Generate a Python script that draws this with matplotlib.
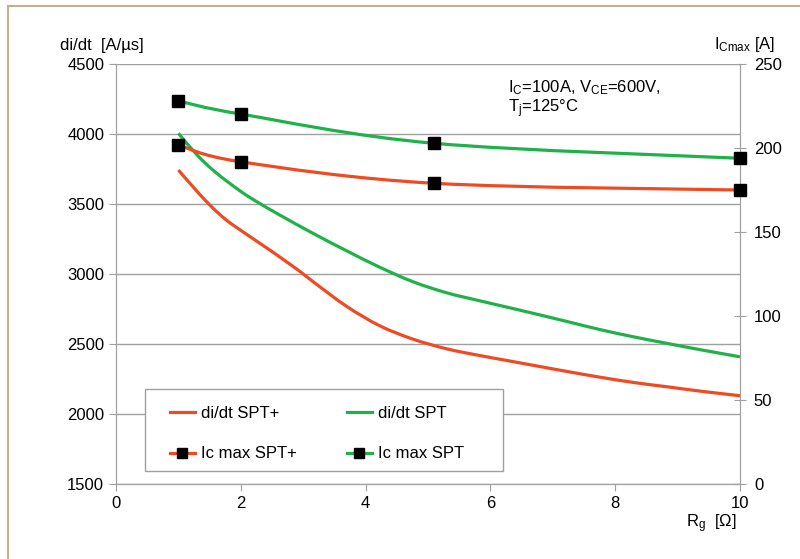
import matplotlib.pyplot as plt
from matplotlib.lines import Line2D
from matplotlib.path import Path
from matplotlib.patches import PathPatch, Rectangle

plt.rcParams['font.family'] = ['Liberation Sans', 'DejaVu Sans']
plt.rcParams['mathtext.fontset'] = 'custom'
plt.rcParams['mathtext.rm'] = 'Liberation Sans'
plt.rcParams['mathtext.it'] = 'Liberation Sans'

# di/dt curves (left axis)
rg_plus = [1.0, 1.24, 1.51, 1.77, 2.04, 2.42, 2.63, 2.95, 3.16, 3.70, 4.23, 4.76,
           5.30, 5.83, 6.31, 6.69, 7.22, 7.76, 8.29, 8.83, 9.36, 10.0]
didt_plus = [3743, 3620, 3490, 3385, 3300, 3185, 3120, 3018, 2945, 2768, 2630, 2535,
             2466, 2418, 2379, 2348, 2305, 2263, 2226, 2195, 2164, 2131]

rg_spt = [1.0, 1.3, 1.6, 2.0, 2.3, 2.63, 3.16, 3.70, 4.23, 4.76, 5.30, 5.83,
          6.31, 6.69, 7.22, 7.76, 8.29, 8.83, 9.36, 10.0]
didt_spt = [4005, 3850, 3725, 3590, 3505, 3420, 3290, 3165, 3048, 2945, 2866, 2809,
            2759, 2719, 2662, 2603, 2552, 2505, 2460, 2409]

# Ic max (right axis)
rg_ic = [1, 2, 5.1, 10]
ic_plus = [201.8, 191.8, 179.0, 175.0]
ic_spt = [228.0, 220.2, 202.8, 193.9]

red = '#f04a23'
green = '#1fb24a'
grey = '#a0a0a0'
fs = 12


def smooth_path(x, y):
    # excel-like smoothed line (bezier through the points)
    pts = list(zip(x, y))
    verts = [pts[0]]
    codes = [Path.MOVETO]
    n = len(pts)
    for i in range(n - 1):
        p0 = pts[i - 1] if i > 0 else pts[i]
        p1 = pts[i]
        p2 = pts[i + 1]
        p3 = pts[i + 2] if i + 2 < n else pts[i + 1]
        c1 = (p1[0] + (p2[0] - p0[0]) / 6, p1[1] + (p2[1] - p0[1]) / 6)
        c2 = (p2[0] - (p3[0] - p1[0]) / 6, p2[1] - (p3[1] - p1[1]) / 6)
        verts += [c1, c2, p2]
        codes += [Path.CURVE4] * 3
    return Path(verts, codes)


fig = plt.figure(figsize=(8, 5.59), dpi=100)
ax = fig.add_axes([0.145, 0.134, 0.78, 0.7515])
ax2 = ax.twinx()

ax.set_xlim(0, 10)
ax.set_ylim(1500, 4500)
ax2.set_ylim(0, 250)
ax.set_xticks([0, 2, 4, 6, 8, 10])
ax.set_yticks(range(1500, 4501, 500))
ax2.set_yticks(range(0, 251, 50))

ax.grid(axis='y', color=grey, lw=1)
ax.set_axisbelow(True)
for a in (ax, ax2):
    a.spines['top'].set_visible(False)
    for s in ('left', 'right', 'bottom'):
        a.spines[s].set_color(grey)
ax.tick_params(axis='both', colors=grey, labelcolor='black', labelsize=fs,
               length=5, direction='out')
ax2.tick_params(axis='y', colors=grey, labelcolor='black', labelsize=fs,
                length=8, direction='inout', pad=6)

ax.add_patch(PathPatch(smooth_path(rg_plus, didt_plus), fill=False, ec=red, lw=2.3,
                       transform=ax.transData))
ax.add_patch(PathPatch(smooth_path(rg_spt, didt_spt), fill=False, ec=green, lw=2.3,
                       transform=ax.transData))
ax2.add_patch(PathPatch(smooth_path(rg_ic, ic_plus), fill=False, ec=red, lw=2.3,
                        transform=ax2.transData))
ax2.add_patch(PathPatch(smooth_path(rg_ic, ic_spt), fill=False, ec=green, lw=2.3,
                        transform=ax2.transData))
ax2.plot(rg_ic, ic_plus, 's', color='black', ms=8.5, clip_on=False, zorder=5)
ax2.plot(rg_ic, ic_spt, 's', color='black', ms=8.5, clip_on=False, zorder=5)

# legend box drawn separately so it can be sized like the original
ax2.add_patch(Rectangle((0.0465, 0.031), 0.574, 0.195, transform=ax2.transAxes,
                        fc='white', ec=grey, lw=1, zorder=4.5))
handles = [
    Line2D([], [], color=red, lw=2.3),
    Line2D([], [], color=red, lw=2.3, marker='s', mfc='black', mec='black', ms=6.5),
    Line2D([], [], color=green, lw=2.3),
    Line2D([], [], color=green, lw=2.3, marker='s', mfc='black', mec='black', ms=6.5),
]
labels = ['di/dt SPT+', 'Ic max SPT+', 'di/dt SPT', 'Ic max SPT']
ax2.legend(handles, labels, ncol=2, loc='upper left',
           bbox_to_anchor=(0.0865, 0.187), fontsize=fs, frameon=False,
           handlelength=1.5, handletextpad=0.35, columnspacing=3.0,
           labelspacing=1.55, borderpad=0, borderaxespad=0)

ax.text(0.628, 0.943, r'I$_\mathrm{C}$=100A, V$_\mathrm{CE}$=600V,', transform=ax.transAxes,
        fontsize=fs, va='center')
ax.text(0.628, 0.893, r'T$_\mathrm{j}$=125°C', transform=ax.transAxes,
        fontsize=fs, va='center')

fig.text(0.075, 0.919, 'di/dt  [A/µs]', fontsize=fs, va='center')
fig.text(0.892, 0.921, r'I$_\mathrm{Cmax}$ [A]', fontsize=fs, va='center')
fig.text(0.857, 0.063, r'R$_\mathrm{g}$  [$\Omega$]', fontsize=fs, va='center')

# tan frame at top and left edge
fig.add_artist(Line2D([0.01, 0.01], [0, 0.989], color='#c4b08a', lw=1.5,
                      transform=fig.transFigure))
fig.add_artist(Line2D([0.01, 1], [0.989, 0.989], color='#c4b08a', lw=1.5,
                      transform=fig.transFigure))

fig.savefig('out.png', dpi=100)
